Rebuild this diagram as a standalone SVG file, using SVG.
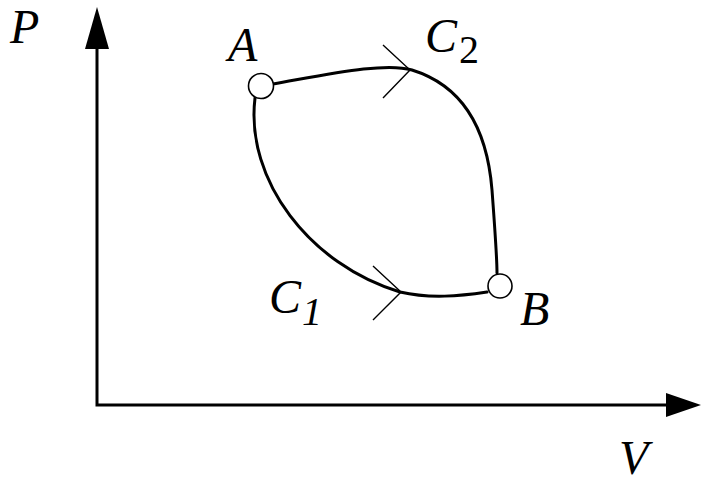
<svg xmlns="http://www.w3.org/2000/svg" width="704" height="482" viewBox="0 0 704 482">
<style>
text{font-family:'Liberation Serif','Times New Roman','DejaVu Serif',serif;fill:#000}
.lbl{font-style:italic;font-size:48px}
.sub{font-style:normal;font-size:40px}
.subi{font-style:italic;font-size:40px}
.axis{stroke:#000;stroke-width:3;fill:none}
.curve{stroke:#000;stroke-width:3;fill:none;stroke-linecap:round}
.chev{stroke:#000;stroke-width:1.4;fill:none}
.pt{fill:#fff;stroke:#000;stroke-width:1.6}
</style>
<g id="axes">
<path class="axis" d="M97 47 V405 H668"/>
<polygon points="97,7 85,49 109,49" fill="#000"/>
<polygon points="701,405 666,393 666,417" fill="#000"/>
<text class="lbl" x="10" y="43">P</text>
<text class="lbl" x="619" y="474">V</text>
</g>
<g id="connectors">
<path id="C2" class="curve" d="M273 84 C330 74 385 62 412 70 C470 88 488 140 492 190 C495 230 497 260 497 273"/>
<path id="C1" class="curve" d="M255 98 C245 180 310 265 400 292 C430 299 460 296 487 292"/>
<polyline class="chev" points="383,45 410,70 383,98"/>
<polyline class="chev" points="373,266 401,292 373,320"/>
</g>
<g id="nodeA">
<circle class="pt" cx="261" cy="86" r="12.5"/>
<text class="lbl" x="228" y="61">A</text>
</g>
<g id="nodeB">
<circle class="pt" cx="500" cy="286" r="12"/>
<text class="lbl" x="520" y="325">B</text>
</g>
<g id="labelC2">
<text class="lbl" x="425" y="52">C</text>
<text class="sub" x="459" y="63">2</text>
</g>
<g id="labelC1">
<text class="lbl" x="269" y="313">C</text>
<text class="subi" x="302" y="325">1</text>
</g>
</svg>
